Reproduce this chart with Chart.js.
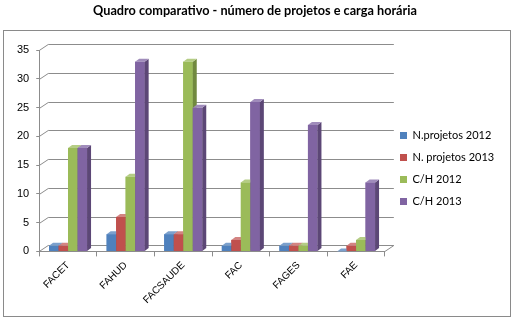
<!DOCTYPE html>
<html>
<head>
<meta charset="utf-8">
<script src="https://cdn.jsdelivr.net/npm/chart.js@4/dist/chart.umd.min.js"></script>
<style>
  html, body { margin: 0; padding: 0; background: #fff; }
  #wrap { width: 513px; height: 323px; position: relative; }
</style>
</head>
<body>
<div id="wrap"><canvas id="chart" width="513" height="323"></canvas></div>
<script>
/* ---- data ---- */
const categories = ['FACET', 'FAHUD', 'FACSAUDE', 'FAC', 'FAGES', 'FAE'];
const seriesNames = ['N.projetos 2012', 'N. projetos 2013', 'C/H 2012', 'C/H 2013'];
const proj2012 = [1, 3, 3, 1, 1, 0];
const proj2013 = [1, 6, 3, 2, 1, 1];
const ch2012 = [18, 13, 33, 12, 1, 2];
const ch2013 = [18, 33, 25, 26, 22, 12];
const yTicks = [0, 5, 10, 15, 20, 25, 30, 35];

const COLORS = ['#4F81BD', '#C0504D', '#9BBB59', '#8064A2'];
const SIDE = ['#385D8A', '#8C3836', '#71893F', '#5C4776'];
const TOP = ['#7BA0CD', '#D38482', '#B5CD85', '#A08CBB'];
const DEPTH_X = 4, DEPTH_Y = 3;      // bar depth
const WALL_X = 9, WALL_Y = 6;        // back wall offset

/* ---- outer frame like the Excel chart box ---- */
const framePlugin = {
  id: 'frame',
  beforeDraw(chart) {
    const ctx = chart.ctx;
    ctx.save();
    ctx.strokeStyle = '#8a8a8a';
    ctx.lineWidth = 1;
    ctx.strokeRect(3.5, 30.5, 507, 286);
    ctx.restore();
  },
  // nudge the legend to where Excel puts it
  afterLayout(chart) {
    const lg = chart.legend;
    const dx = 389 - lg.left, dy = 14;
    lg.left += dx; lg.right += dx;
    lg.top += dy; lg.bottom += dy;
  },
};

/* ---- back wall grid: front edge -> diagonal -> back line ---- */
const wallPlugin = {
  id: 'wall',
  beforeDatasetsDraw(chart) {
    const { ctx, chartArea: a, scales } = chart;
    ctx.save();
    ctx.strokeStyle = '#8c8c8c';
    ctx.lineWidth = 1;
    ctx.beginPath();
    yTicks.forEach((v) => {
      const y = Math.round(scales.y.getPixelForValue(v)) + 0.5;
      ctx.moveTo(a.left, y);
      ctx.lineTo(a.left + WALL_X, y - WALL_Y);
      ctx.lineTo(a.right + WALL_X, y - WALL_Y);
    });
    const yb = Math.round(a.bottom) + 0.5;
    ctx.moveTo(a.right, yb);
    ctx.lineTo(a.right + WALL_X, yb - WALL_Y);
    ctx.stroke();
    ctx.restore();
  },
};

/* ---- fake 3D: redraw bars per category with top + side faces ---- */
const bars3d = {
  id: 'bars3d',
  afterDatasetsDraw(chart) {
    const ctx = chart.ctx;
    const metas = chart.data.datasets.map((_, i) => chart.getDatasetMeta(i));
    ctx.save();
    for (let c = 0; c < categories.length; c++) {
      metas.forEach((meta, i) => {
        const bar = meta.data[c];
        if (!bar) return;
        const { x, y, base, width } = bar.getProps(['x', 'y', 'base', 'width'], true);
        const l = x - width / 2, r = x + width / 2;
        ctx.fillStyle = COLORS[i];
        ctx.fillRect(l, y, width, base - y);
        ctx.fillStyle = SIDE[i];
        ctx.beginPath();
        ctx.moveTo(r, y); ctx.lineTo(r + DEPTH_X, y - DEPTH_Y);
        ctx.lineTo(r + DEPTH_X, base - DEPTH_Y); ctx.lineTo(r, base);
        ctx.closePath(); ctx.fill();
        ctx.fillStyle = TOP[i];
        ctx.beginPath();
        ctx.moveTo(l, y); ctx.lineTo(l + DEPTH_X, y - DEPTH_Y);
        ctx.lineTo(r + DEPTH_X, y - DEPTH_Y); ctx.lineTo(r, y);
        ctx.closePath(); ctx.fill();
      });
    }
    ctx.restore();
  },
};

new Chart(document.getElementById('chart'), {
  type: 'bar',
  data: {
    labels: categories,
    datasets: [proj2012, proj2013, ch2012, ch2013].map((d, i) => ({
      label: seriesNames[i],
      data: d,
      backgroundColor: COLORS[i],
      borderWidth: 0,
      categoryPercentage: 0.66,
      barPercentage: 1,
    })),
  },
  options: {
    responsive: false,
    animation: false,
    layout: { padding: { left: 10, right: 13, top: 0, bottom: 14 } },
    plugins: {
      title: {
        display: true,
        text: 'Quadro comparativo - número de projetos e carga horária',
        color: '#000',
        font: { family: 'Lato', size: 12.7, weight: 'bold' },
        padding: { top: 3, bottom: 32 },
      },
      legend: {
        position: 'right',
        labels: {
          boxWidth: 7, boxHeight: 7, padding: 11, color: '#000',
          font: { family: 'Lato', size: 11 },
        },
      },
      tooltip: { enabled: false },
    },
    scales: {
      x: {
        grid: { display: true, drawOnChartArea: false, offset: true, tickLength: 5, color: '#8c8c8c' },
        border: { color: '#8c8c8c' },
        ticks: {
          color: '#000', maxRotation: 45, minRotation: 45,
          font: { family: 'Liberation Sans', size: 10 },
        },
      },
      y: {
        min: yTicks[0], max: yTicks[yTicks.length - 1],
        afterBuildTicks: (axis) => { axis.ticks = yTicks.map((v) => ({ value: v })); },
        grid: { drawOnChartArea: false, drawTicks: true, tickLength: 3, color: '#8c8c8c' },
        border: { color: '#8c8c8c' },
        ticks: { color: '#000', padding: 7, font: { family: 'Liberation Sans', size: 11 } },
      },
    },
  },
  plugins: [framePlugin, wallPlugin, bars3d],
});
</script>
</body>
</html>
